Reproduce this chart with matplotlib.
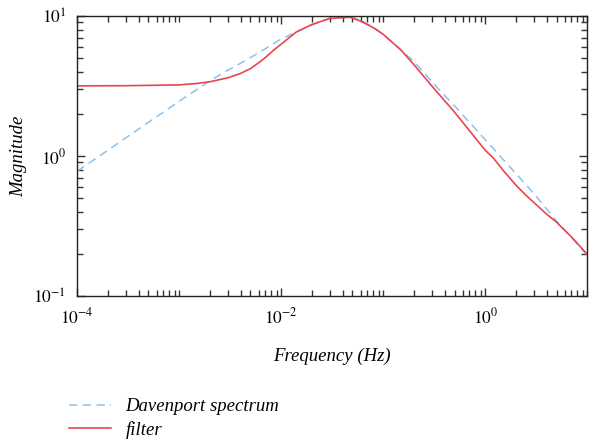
import matplotlib
matplotlib.use('Agg')
import matplotlib.pyplot as plt
from matplotlib.ticker import FixedLocator, LogLocator, NullFormatter
import numpy as np

# Davenport spectrum
DAV_FREQ = [1e-4, 2e-4, 3e-4, 5e-4, 1e-3, 2e-3, 3e-3, 4e-3, 6e-3, 1e-2,
            1.5e-2, 2e-2, 3e-2, 4.5e-2, 6e-2, 8e-2, 1e-1, 1.5e-1, 2e-1,
            3e-1, 5e-1, 1.0, 2.0, 3.0, 5.0, 7.0, 10.0]
DAV_MAG = [0.78, 1.10, 1.35, 1.74, 2.46, 3.45, 4.1, 4.6, 5.45, 6.85,
           7.85, 8.6, 9.65, 10.0, 9.35, 8.3, 7.4, 5.7, 4.74,
           3.39, 2.28, 1.31, 0.75, 0.54, 0.344, 0.262, 0.196]

# filter response
FILT_FREQ = [1e-4, 3e-4, 1e-3, 1.5e-3, 2e-3, 3e-3, 4e-3, 5e-3, 6e-3, 7e-3,
             8.5e-3, 1e-2, 1.4e-2, 2e-2, 3e-2, 4.7e-2, 6e-2, 8e-2, 1e-1,
             1.5e-1, 2e-1, 3e-1, 5e-1, 7e-1, 1.0, 1.2, 1.5, 2.0, 2.5, 3.0,
             4.0, 5.0, 7.0, 10.0]
FILT_MAG = [3.17, 3.18, 3.22, 3.3, 3.39, 3.62, 3.89, 4.21, 4.63, 5.05,
            5.73, 6.3, 7.67, 8.7, 9.6, 9.8, 9.2, 8.25, 7.4,
            5.7, 4.49, 3.16, 2.06, 1.52, 1.1, 0.97, 0.79, 0.62, 0.526, 0.466,
            0.385, 0.337, 0.265, 0.199]

LABELS = ['Davenport spectrum', 'filter']

plt.rcParams['font.family'] = ['Liberation Serif', 'DejaVu Serif']
plt.rcParams['mathtext.fontset'] = 'stix'

fig = plt.figure(figsize=(5.89, 4.44), dpi=100)
ax = fig.add_axes([0.131, 0.333, 0.866, 0.631])

ax.loglog(DAV_FREQ, DAV_MAG, color='#8ec1e9', lw=1.1, ls=(0, (5.5, 3.5)), label=LABELS[0])
ax.loglog(FILT_FREQ, FILT_MAG, color='#e8464e', lw=1.2, label=LABELS[1])

ax.set_xlim(1e-4, 10)
ax.set_ylim(0.1, 10)

ax.xaxis.set_major_locator(FixedLocator([1e-4, 1e-2, 1.0]))
ax.xaxis.set_minor_locator(LogLocator(base=10, subs=np.arange(1, 10), numticks=20))
ax.xaxis.set_minor_formatter(NullFormatter())
ax.set_xticklabels([r'$10^{-4}$', r'$10^{-2}$', r'$10^{0}$'])

ax.yaxis.set_major_locator(FixedLocator([0.1, 1.0, 10.0]))
ax.yaxis.set_minor_locator(LogLocator(base=10, subs=np.arange(2, 10), numticks=20))
ax.yaxis.set_minor_formatter(NullFormatter())
ax.set_yticklabels([r'$10^{-1}$', r'$10^{0}$', r'$10^{1}$'])

ax.tick_params(which='both', direction='in', top=True, right=True, labelsize=12.5,
               color='#333333', width=1.0)
ax.tick_params(which='major', length=6, pad=8)
ax.tick_params(which='minor', length=4)
for s in ax.spines.values():
    s.set_color('#222222')
    s.set_linewidth(1.0)

ax.set_xlabel('Frequency (Hz)', fontstyle='italic', fontsize=13.5, labelpad=15)
ax.set_ylabel('Magnitude', fontstyle='italic', fontsize=13.5, labelpad=4)

leg = fig.legend(loc='upper left', bbox_to_anchor=(0.105, 0.12), frameon=False,
                 prop={'style': 'italic', 'size': 13.5}, handlelength=2.2,
                 handletextpad=0.8, labelspacing=0.3, borderaxespad=0)

fig.savefig('out.png', dpi=100)
